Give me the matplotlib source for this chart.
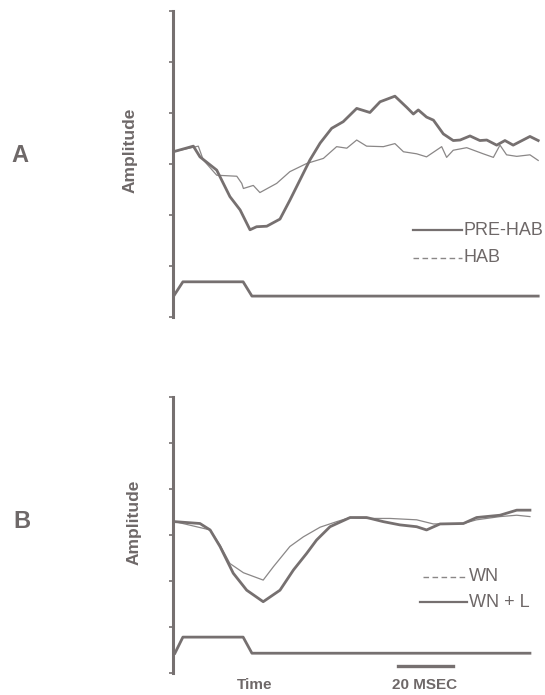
import numpy as np
import matplotlib
matplotlib.use("Agg")
import matplotlib.pyplot as plt

plt.rcParams['font.family'] = ['Liberation Sans', 'DejaVu Sans']

# panel A: habituation (czas w ms, amplituda w jednostkach podziałki)
t_prehab = [0.1, 7.4, 9.8, 15.9, 20.7, 24.4, 28.0, 30.4, 34.1, 38.9, 42.5, 46.2, 49.8,
            53.5, 57.7, 61.9, 66.8, 71.6, 75.3, 80.7, 85.0, 87.4, 89.2, 92.2, 94.7,
            98.3, 101.9, 104.4, 108.0, 111.6, 114.1, 117.7, 120.7, 123.7, 129.8, 132.8]
a_prehab = [3.24, 3.35, 3.14, 2.88, 2.36, 2.10, 1.71, 1.77, 1.78, 1.92, 2.29, 2.69, 3.08,
            3.41, 3.70, 3.83, 4.09, 4.01, 4.22, 4.33, 4.11, 3.98, 4.06, 3.92, 3.86,
            3.59, 3.46, 3.47, 3.55, 3.46, 3.47, 3.37, 3.46, 3.37, 3.54, 3.46]

t_hab = [0.1, 9.2, 11.0, 15.9, 23.2, 25.0, 25.6, 29.2, 31.6, 37.7, 42.5, 48.6, 54.7,
         59.5, 63.2, 66.8, 70.4, 76.5, 80.7, 83.8, 88.6, 92.2, 97.7, 99.5, 101.9,
         106.8, 112.8, 116.5, 118.9, 121.3, 125.0, 129.8, 132.8]
a_hab = [3.24, 3.35, 3.08, 2.78, 2.76, 2.62, 2.52, 2.58, 2.44, 2.62, 2.85, 3.01, 3.11,
         3.34, 3.31, 3.47, 3.35, 3.34, 3.40, 3.24, 3.20, 3.14, 3.34, 3.13, 3.27,
         3.32, 3.20, 3.13, 3.37, 3.18, 3.15, 3.18, 3.07]

t_stim_a = [0.0, 3.6, 25.5, 28.7, 132.8]
a_stim_a = [0.39, 0.69, 0.69, 0.41, 0.41]

# panel B: WN / WN + L
t_wnl = [0.7, 9.8, 13.5, 17.1, 21.9, 26.8, 32.8, 38.9, 43.8, 48.6, 52.2, 57.1, 64.4,
         70.4, 76.5, 82.5, 88.6, 92.2, 97.1, 105.6, 110.4, 118.9, 125.0, 129.8]
a_wnl = [3.29, 3.25, 3.11, 2.75, 2.17, 1.80, 1.55, 1.80, 2.24, 2.60, 2.89, 3.18, 3.38,
         3.38, 3.29, 3.22, 3.18, 3.11, 3.24, 3.25, 3.38, 3.43, 3.54, 3.54]

t_wn = [0.7, 13.5, 17.1, 20.7, 25.6, 32.8, 36.5, 42.5, 47.4, 53.5, 59.5, 64.4, 70.4,
        78.9, 88.6, 94.7, 105.6, 110.4, 118.9, 125.0, 129.8]
a_wn = [3.29, 3.11, 2.78, 2.38, 2.18, 2.02, 2.31, 2.75, 2.96, 3.17, 3.29, 3.38, 3.36,
        3.36, 3.33, 3.24, 3.25, 3.33, 3.40, 3.43, 3.40]

t_stim_b = [0.7, 3.6, 25.5, 28.7, 129.8]
a_stim_b = [0.43, 0.78, 0.78, 0.43, 0.43]

scale_ms = [81.8, 101.8]
scale_y = 0.15

W, H = 545, 695
dark = '#767070'
light = '#8a8787'
txt = '#6e6868'


def px_axes(fig, x0, y0, x1, y1):
    # pozycja w pikselach (od góry) -> współrzędne figury
    return fig.add_axes([x0 / W, 1 - y1 / H, (x1 - x0) / W, (y1 - y0) / H])


def style_axes(ax):
    ax.set_xlim(0, (W - 173) / 2.75)
    ax.set_ylim(0, 6)
    for s in ['top', 'right', 'bottom']:
        ax.spines[s].set_visible(False)
    ax.spines['left'].set_color(dark)
    ax.spines['left'].set_linewidth(2.2)
    ax.set_xticks([])
    ax.set_yticks(range(7))
    ax.tick_params(axis='y', length=3, width=1.2, color=dark, labelleft=False, direction='out')
    ax.patch.set_alpha(0)


def legend_row(ax, x0, x1, y, label, dashed):
    if dashed:
        ax.plot([x0, x1], [y, y], color=light, lw=1.0, ls=(0, (4, 2.5)), transform=ax.transAxes)
    else:
        ax.plot([x0, x1], [y, y], color=dark, lw=1.6, transform=ax.transAxes)
    ax.text(x1 + 0.005, y, label, transform=ax.transAxes, fontsize=13, color=txt,
            va='center', ha='left', clip_on=False)


fig = plt.figure(figsize=(W / 100, H / 100), dpi=100)

# --- A ---
ax1 = px_axes(fig, 173, 11, W, 317)
style_axes(ax1)
ax1.plot(t_hab, a_hab, color=light, lw=0.9)
ax1.plot(t_prehab, a_prehab, color=dark, lw=2.0)
ax1.plot(t_stim_a, a_stim_a, color=dark, lw=2.0)
legend_row(ax1, 0.645, 0.777, 0.284, 'PRE-HAB', False)
legend_row(ax1, 0.645, 0.777, 0.193, 'HAB', True)

# --- B ---
ax2 = px_axes(fig, 173, 397, W, 673)
style_axes(ax2)
ax2.plot(t_wn, a_wn, color=light, lw=0.9)
ax2.plot(t_wnl, a_wnl, color=dark, lw=2.0)
ax2.plot(t_stim_b, a_stim_b, color=dark, lw=2.0)
ax2.plot(scale_ms, [scale_y, scale_y], color=dark, lw=2.4)
legend_row(ax2, 0.672, 0.79, 0.348, 'WN', True)
legend_row(ax2, 0.664, 0.79, 0.257, 'WN + L', False)

# etykiety
fig.text(20 / W, 1 - 156 / H, 'A', fontsize=17, fontweight='bold', color=txt,
         ha='center', va='center')
fig.text(22 / W, 1 - 522 / H, 'B', fontsize=17, fontweight='bold', color=txt,
         ha='center', va='center')
fig.text(130 / W, 1 - 150 / H, 'Amplitude', fontsize=12.5, fontweight='bold', color=txt,
         rotation=90, ha='center', va='center')
fig.text(134 / W, 1 - 522 / H, 'Amplitude', fontsize=12.5, fontweight='bold', color=txt,
         rotation=90, ha='center', va='center')
fig.text(255 / W, 1 - 685 / H, 'Time', fontsize=11, fontweight='bold', color=txt,
         ha='center', va='center')
fig.text(425 / W, 1 - 685 / H, '20 MSEC', fontsize=11, fontweight='bold', color=txt,
         ha='center', va='center')

fig.savefig('out.png', dpi=100)
